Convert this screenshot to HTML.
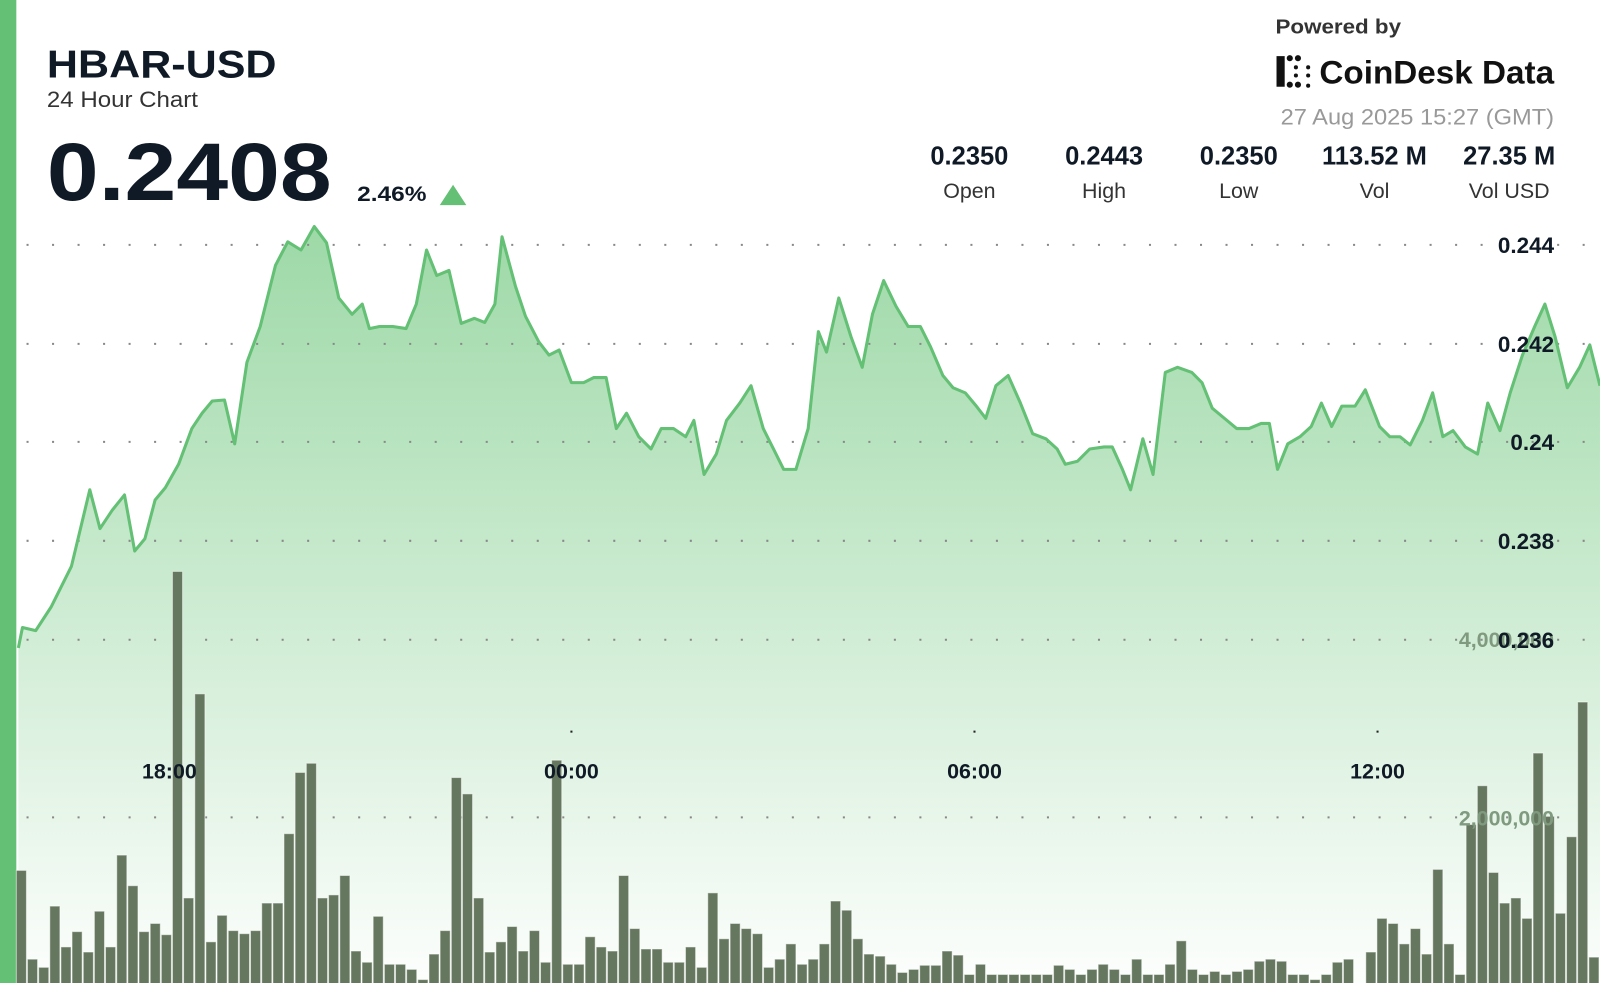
<!DOCTYPE html>
<html><head><meta charset="utf-8"><style>
body{margin:0;width:1600px;height:983px;overflow:hidden;background:#fff;font-family:"Liberation Sans","DejaVu Sans",sans-serif;}
</style></head><body>
<svg width="1600" height="983" xmlns="http://www.w3.org/2000/svg" style="position:absolute;left:0;top:0">
<defs>
<linearGradient id="g" gradientUnits="userSpaceOnUse" x1="0" y1="220" x2="0" y2="983">
<stop offset="0" stop-color="#5cbf6c" stop-opacity="0.6"/>
<stop offset="1" stop-color="#5cbf6c" stop-opacity="0"/>
</linearGradient>
</defs>
<g transform="scale(1.0204)">
<rect x="0" y="0" width="16" height="983" fill="#63c074"/>
<path fill="url(#g)" stroke="none" d="M18,983 L18,635 22,615 35,618 50,595 70,555 88,480 98,518 110,500 122,485 132,540 142,528 152,490 162,478 175,455 188,420 198,405 208,393 220,392 230,435 242,355 255,320 270,260 282,237 295,245 308,222 320,238 332,292 345,308 355,298 362,322 372,320 385,320 398,322 408,298 418,245 428,270 440,265 452,317 465,312 475,316 485,298 492,232 505,280 515,310 528,335 538,348 548,343 560,375 572,375 582,370 594,370 604,420 614,405 626,428 638,440 648,420 660,420 672,428 680,412 690,465 702,445 712,412 725,395 736,378 748,420 758,440 768,460 780,460 792,420 802,325 810,345 822,292 834,330 845,360 855,308 866,275 878,300 890,320 902,320 912,340 924,368 934,380 946,385 956,397 966,410 976,378 988,368 1000,395 1012,425 1025,430 1036,440 1044,455 1056,452 1068,440 1082,438 1090,438 1100,460 1108,480 1120,430 1130,465 1142,365 1154,360 1168,365 1178,375 1188,400 1200,410 1212,420 1224,420 1236,415 1244,415 1252,460 1262,435 1274,428 1285,418 1295,395 1305,418 1315,398 1328,398 1338,382 1352,418 1362,428 1372,428 1382,436 1394,412 1404,385 1414,428 1424,422 1436,438 1448,445 1458,395 1470,422 1480,385 1492,348 1504,320 1514,298 1524,330 1536,380 1548,360 1558,338 1568,378 L1568,983 Z"/>
<g stroke="#888" stroke-width="2" stroke-dasharray="2 23">
<line x1="26" y1="240" x2="1600" y2="240"/><line x1="26" y1="337" x2="1600" y2="337"/><line x1="26" y1="433" x2="1600" y2="433"/><line x1="26" y1="530" x2="1600" y2="530"/><line x1="26" y1="627" x2="1600" y2="627"/><line x1="26" y1="801" x2="1600" y2="801"/>
</g>
<g id="bars" fill="#66775f" stroke="#fff" stroke-opacity="0.5" stroke-width="1"></g>
<polyline fill="none" stroke="#63c074" stroke-width="3" stroke-linejoin="round" points="18,635 22,615 35,618 50,595 70,555 88,480 98,518 110,500 122,485 132,540 142,528 152,490 162,478 175,455 188,420 198,405 208,393 220,392 230,435 242,355 255,320 270,260 282,237 295,245 308,222 320,238 332,292 345,308 355,298 362,322 372,320 385,320 398,322 408,298 418,245 428,270 440,265 452,317 465,312 475,316 485,298 492,232 505,280 515,310 528,335 538,348 548,343 560,375 572,375 582,370 594,370 604,420 614,405 626,428 638,440 648,420 660,420 672,428 680,412 690,465 702,445 712,412 725,395 736,378 748,420 758,440 768,460 780,460 792,420 802,325 810,345 822,292 834,330 845,360 855,308 866,275 878,300 890,320 902,320 912,340 924,368 934,380 946,385 956,397 966,410 976,378 988,368 1000,395 1012,425 1025,430 1036,440 1044,455 1056,452 1068,440 1082,438 1090,438 1100,460 1108,480 1120,430 1130,465 1142,365 1154,360 1168,365 1178,375 1188,400 1200,410 1212,420 1224,420 1236,415 1244,415 1252,460 1262,435 1274,428 1285,418 1295,395 1305,418 1315,398 1328,398 1338,382 1352,418 1362,428 1372,428 1382,436 1394,412 1404,385 1414,428 1424,422 1436,438 1448,445 1458,395 1470,422 1480,385 1492,348 1504,320 1514,298 1524,330 1536,380 1548,360 1558,338 1568,378"/>
<g font-weight="bold" font-size="22" fill="#0f1a26" text-anchor="end">
<text x="1523" y="248">0.244</text><text x="1523" y="345">0.242</text><text x="1523" y="441">0.24</text><text x="1523" y="538">0.238</text>
</g>
<g font-weight="bold" font-size="21" fill="#7f9a7f" text-anchor="end"><text x="1523" y="634">4,000,000</text><text x="1523" y="809">2,000,000</text></g>
<text x="1523" y="635" font-weight="bold" font-size="22" fill="#0f1a26" text-anchor="end">0.236</text>
<g font-weight="bold" font-size="21" fill="#0f1a26" text-anchor="middle">
<text x="166" y="763">18:00</text><text x="560" y="763">00:00</text><text x="955" y="763">06:00</text><text x="1350" y="763">12:00</text>
</g>
<g stroke="#222" stroke-width="2"><line x1="559" y1="717" x2="561" y2="717"/><line x1="954" y1="717" x2="956" y2="717"/><line x1="1349" y1="717" x2="1351" y2="717"/></g>
<text x="46" y="76" font-weight="bold" font-size="38" fill="#0f1a26" textLength="225" lengthAdjust="spacingAndGlyphs">HBAR-USD</text>
<text x="46" y="105" font-size="22" fill="#333" textLength="148" lengthAdjust="spacingAndGlyphs">24 Hour Chart</text>
<text x="46" y="196" font-weight="bold" font-size="80" fill="#0f1a26" textLength="279" lengthAdjust="spacingAndGlyphs">0.2408</text>
<text x="350" y="197" font-weight="bold" font-size="21" fill="#0f1a26" textLength="68" lengthAdjust="spacingAndGlyphs">2.46%</text>
<polygon points="431,201 457,201 444,181" fill="#63c074"/>
<text x="1250" y="33" font-weight="bold" font-size="20" fill="#333" textLength="123" lengthAdjust="spacingAndGlyphs">Powered by</text>
<g fill="#111"><rect x="1251" y="55" width="8" height="30"/><circle cx="1264" cy="57" r="3"/><circle cx="1272" cy="57" r="3"/><circle cx="1264" cy="83" r="3"/><circle cx="1272" cy="83" r="3"/><circle cx="1270" cy="66" r="2"/><circle cx="1270" cy="74" r="2"/><circle cx="1282" cy="66" r="2"/><circle cx="1282" cy="74" r="2"/><circle cx="1282" cy="84" r="2"/></g>
<text x="1293" y="82" font-weight="bold" font-size="32" fill="#111" textLength="230" lengthAdjust="spacingAndGlyphs">CoinDesk Data</text>
<text x="1523" y="122" font-size="22" fill="#999" text-anchor="end" textLength="268" lengthAdjust="spacingAndGlyphs">27 Aug 2025 15:27 (GMT)</text>
<g font-weight="bold" font-size="25" fill="#0f1a26" text-anchor="middle">
<text x="950" y="161">0.2350</text><text x="1082" y="161">0.2443</text><text x="1214" y="161">0.2350</text><text x="1347" y="161">113.52 M</text><text x="1479" y="161">27.35 M</text>
</g>
<g font-size="21" fill="#333" text-anchor="middle">
<text x="950" y="194">Open</text><text x="1082" y="194">High</text><text x="1214" y="194">Low</text><text x="1347" y="194">Vol</text><text x="1479" y="194">Vol USD</text>
</g>
</g>
</svg>
<script>
var t=[853,940,948,888,928,913,933,893,928,838,868,913,905,916,560,880,680,923,897,912,915,912,885,885,817,757,748,880,877,858,932,943,898,945,945,950,960,935,912,762,778,880,933,923,908,932,912,943,745,945,945,918,928,932,858,910,930,930,943,943,928,948,875,920,905,910,915,948,940,925,945,940,925,883,892,920,935,937,945,953,950,946,946,932,936,955,945,955,955,955,955,955,955,946,950,955,950,945,950,955,940,955,955,945,922,950,955,952,955,952,950,942,940,942,955,955,960,955,943,940,978,933,900,905,925,910,935,852,925,955,808,770,855,885,880,900,738,800,895,820,688,938];
var g=document.getElementById('bars'),s='';
var n=t.length,x0=16,dx=(1568-16)/n;
for(var i=0;i<n;i++){var x=x0+i*dx;s+='<rect x="'+x.toFixed(1)+'" y="'+t[i]+'" width="'+(dx-1).toFixed(1)+'" height="'+(985-t[i])+'"/>';}
g.innerHTML=s;
</script>
</body></html>
